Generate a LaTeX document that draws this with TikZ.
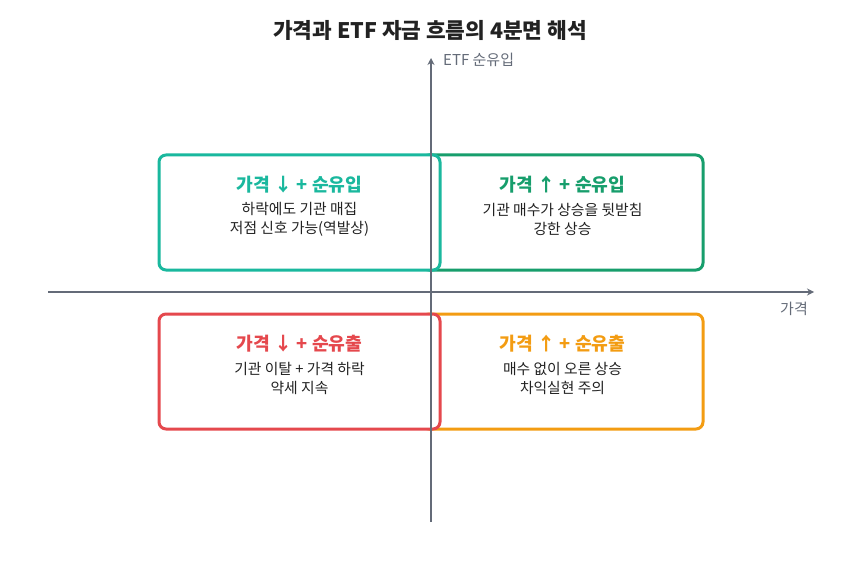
\documentclass[tikz,border=0pt]{standalone}
\usepackage{fontspec}
\setmainfont{Noto Sans CJK KR}
\usetikzlibrary{arrows.meta}
\definecolor{cteal}{HTML}{1AB89E}
\definecolor{cgreen}{HTML}{179E6C}
\definecolor{cred}{HTML}{E5484D}
\definecolor{corange}{HTML}{F39C12}
\definecolor{caxis}{HTML}{646B78}
\definecolor{ctext}{HTML}{222222}
\begin{document}
\begin{tikzpicture}[x=1pt,y=-1pt,
  quad/.style={draw, fill=white, line width=3pt, rounded corners=7pt, minimum width=281pt, minimum height=115pt, inner sep=0pt},
  qtitle/.style={font=\fontsize{18.2}{21}\selectfont\bfseries},
  qbody/.style={font=\fontsize{14.8}{19}\selectfont, text=ctext, align=center},
  axis/.style={draw=caxis, line width=1.6pt, -{Stealth[length=7pt,width=7pt]}},
  albl/.style={font=\fontsize{15}{17}\selectfont, text=caxis}]
\useasboundingbox (0,0) rectangle (861,561);
\node[font=\fontsize{21.4}{25}\selectfont\bfseries, text=ctext] (title) at (430,31) {가격과 ETF 자금 흐름의 4분면 해석};
% boxes
\node[quad, draw=cgreen] (qtr) at (562.5,212.5) {};
\node[quad, draw=cteal] (qtl) at (299.5,212.5) {};
\node[quad, draw=corange] (qbr) at (562.5,371.5) {};
\node[quad, draw=cred] (qbl) at (299.5,371.5) {};
% axes
\coordinate (yb) at (431,522);
\coordinate (yt) at (431,58);
\coordinate (xl) at (48,292);
\coordinate (xr) at (814,292);
\draw[axis] (yb) -- (yt);
\draw[axis] (xl) -- (xr);
\node[albl, anchor=west, inner sep=0pt] (ylab) at (443,60) {ETF 순유입};
\node[albl] (xlab) at (794,309) {가격};
% texts
\node[qtitle, text=cteal] (t1) at (299.5,185) {가격 ↓ + 순유입};
\node[qbody] (b1) at (299.5,219.5) {하락에도 기관 매집\\저점 신호 가능(역발상)};
\node[qtitle, text=cgreen] (t2) at (562.5,185) {가격 ↑ + 순유입};
\node[qbody] (b2) at (562.5,219.5) {기관 매수가 상승을 뒷받침\\강한 상승};
\node[qtitle, text=cred] (t3) at (299.5,344) {가격 ↓ + 순유출};
\node[qbody] (b3) at (299.5,378.5) {기관 이탈 + 가격 하락\\약세 지속};
\node[qtitle, text=corange] (t4) at (562.5,344) {가격 ↑ + 순유출};
\node[qbody] (b4) at (562.5,378.5) {매수 없이 오른 상승\\차익실현 주의};
\end{tikzpicture}
\end{document}
